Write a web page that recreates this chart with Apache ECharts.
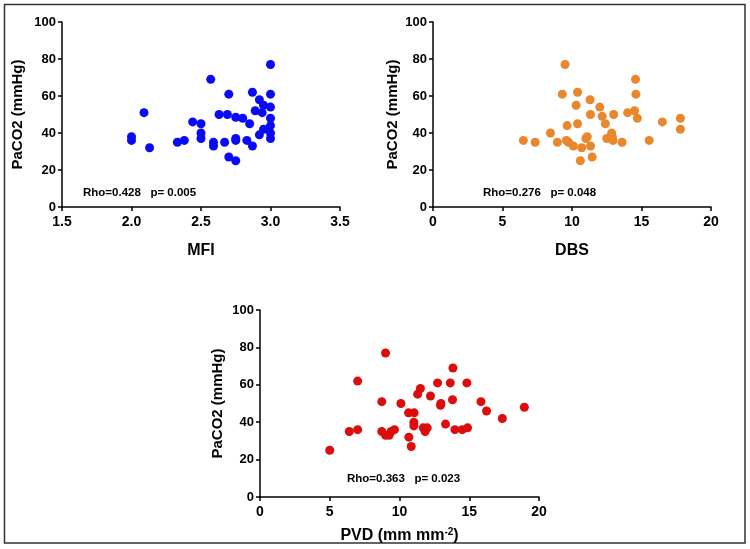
<!DOCTYPE html>
<html><head><meta charset="utf-8">
<script src="https://cdn.jsdelivr.net/npm/echarts@6/dist/echarts.min.js"></script>
<style>html,body{margin:0;padding:0;background:#fff;}#c{width:750px;height:549px;}</style>
</head><body><div id="c"></div>
<script>
// MFI vs PaCO2
var mfiX = [2.00,2.00,2.09,2.13,2.33,2.38,2.44,2.50,2.50,2.50,2.57,2.59,2.59,2.63,2.67,2.69,2.70,2.70,2.75,2.75,2.75,2.75,2.80,2.83,2.85,2.87,2.87,2.89,2.92,2.92,2.94,2.95,2.95,3.00,3.00,3.00,3.00,3.00,3.00,3.00];
var mfiY = [38,36,51,32,35,36,46,45,40,37,69,35,33,50,35,50,61,27,48.5,37,36,25,48,36,45,62,33,52,58,39,51,55,42,77,61,54,48,44,40,37];
// DBS vs PaCO2
var dbsX = [6.5,7.35,8.45,8.95,9.3,9.5,9.65,9.6,9.75,10.1,10.3,10.4,10.4,10.6,10.7,11.0,11.1,11.3,11.33,11.33,11.45,12.0,12.17,12.4,12.5,12.85,12.9,12.95,13.0,13.6,14.0,14.5,14.57,14.6,14.7,15.55,16.5,17.8,17.8];
var dbsY = [36,35,40,35,61,77,44,36,35,33,55,62,45,25,32,37,38,58,50,33,27,54,49,45,37,40,38,36,50,35,51,52,69,61,48,36,46,48,42];
// PVD vs PaCO2
var pvdX = [5.0,6.4,7.0,7.0,8.73,8.73,9.0,9.0,9.26,9.4,9.64,10.1,10.65,10.67,10.84,11.05,11.03,11.03,11.3,11.5,11.7,11.84,11.99,12.22,12.73,12.94,12.97,13.3,13.64,13.83,13.8,13.97,14.5,14.83,14.88,15.84,16.24,17.37,18.95];
var pvdY = [25,35,62,36,51,35,77,33,33,35,36,50,45,32,27,45,40,38,55,58,37,35,37,54,61,49,50,39,61,69,52,36,36,61,37,51,46,42,48];
// axis ranges / labels
var yAxisName = 'PaCO2 (mmHg)';
var xNames = ['MFI', 'DBS', 'PVD (mm mm{sup|-2})'];
var statTexts = ['Rho=0.428   p= 0.005', 'Rho=0.276   p= 0.048', 'Rho=0.363   p= 0.023'];

var FONT = 'Arial, "Liberation Sans", sans-serif';
var chart = echarts.init(document.getElementById('c'), null, {renderer: 'canvas'});

function pairs(xs, ys){ return xs.map(function(x,i){ return [x, ys[i]]; }); }

var grids = [
  {left: 62, top: 22, width: 278, height: 185},
  {left: 433, top: 22, width: 278, height: 185},
  {left: 260, top: 310, width: 279, height: 187}
];
function xAx(i, min, max, interval, name, dec, gap){
  return {
    gridIndex: i, type: 'value', min: min, max: max, interval: interval,
    name: name, nameLocation: 'middle', nameGap: gap,
    nameTextStyle: {fontFamily: FONT, fontWeight: 'bold', fontSize: 16, color: '#000',
      rich: {sup: {fontFamily: FONT, fontWeight: 'bold', fontSize: 10, color: '#000', verticalAlign: 'top', padding: [0,0,8,0]}}},
    axisLine: {show: true, onZero: false, lineStyle: {color: '#000', width: 1.5}},
    axisTick: {show: true, length: 4, lineStyle: {color: '#000', width: 1.5}},
    axisLabel: {margin: 8, fontFamily: FONT, fontWeight: 'bold', fontSize: 14, color: '#000',
      formatter: function(v){ return dec ? v.toFixed(1) : String(v); }},
    splitLine: {show: false}
  };
}
function yAx(i, gap){
  return {
    gridIndex: i, type: 'value', min: 0, max: 100, interval: 20,
    name: yAxisName, nameLocation: 'middle', nameGap: gap, nameRotate: 90,
    nameTextStyle: {fontFamily: FONT, fontWeight: 'bold', fontSize: 15, color: '#000'},
    axisLine: {show: true, onZero: false, lineStyle: {color: '#000', width: 1.5}},
    axisTick: {show: true, length: 4, lineStyle: {color: '#000', width: 1.5}},
    axisLabel: {margin: 6, fontFamily: FONT, fontWeight: 'bold', fontSize: 13, color: '#000'},
    splitLine: {show: false}
  };
}
function sc(i, data, color){
  return {type: 'scatter', xAxisIndex: i, yAxisIndex: i, data: data, symbolSize: 9,
    itemStyle: {color: color, opacity: 1}, silent: true, animation: false};
}

chart.setOption({
  animation: false,
  grid: grids,
  xAxis: [
    xAx(0, 1.5, 3.5, 0.5, xNames[0], true, 36),
    xAx(1, 0, 20, 5, xNames[1], false, 36),
    xAx(2, 0, 20, 5, xNames[2], false, 30)
  ],
  yAxis: [yAx(0, 37), yAx(1, 33), yAx(2, 35)],
  series: [
    sc(0, pairs(mfiX, mfiY), '#0a0af5'),
    sc(1, pairs(dbsX, dbsY), '#e8872b'),
    sc(2, pairs(pvdX, pvdY), '#dc0d0d')
  ],
  graphic: [
    {type: 'rect', shape: {x: 4.5, y: 4.5, width: 740.5, height: 538.5},
     style: {fill: null, stroke: '#333', lineWidth: 1.5}, silent: true},
    {type: 'text', x: 83, y: 193, style: {text: statTexts[0], font: 'bold 11.5px ' + FONT, fill: '#000', textVerticalAlign: 'middle'}},
    {type: 'text', x: 483, y: 193, style: {text: statTexts[1], font: 'bold 11.5px ' + FONT, fill: '#000', textVerticalAlign: 'middle'}},
    {type: 'text', x: 347, y: 479, style: {text: statTexts[2], font: 'bold 11.5px ' + FONT, fill: '#000', textVerticalAlign: 'middle'}}
  ]
});
</script></body></html>
